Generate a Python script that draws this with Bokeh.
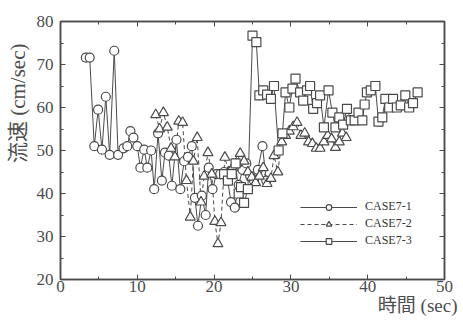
from bokeh.plotting import figure
from bokeh.models import LinearAxis, Legend, LegendItem, Title, Range1d
from bokeh.embed import file_html
from bokeh.resources import INLINE

# ---- data ----
c1_t = [3.3, 3.8, 4.4, 4.9, 5.4, 5.9, 6.4, 7.0, 7.5, 8.2, 8.7, 9.1, 9.5, 10.0, 10.4, 10.9, 11.3, 11.8, 12.2,
        12.7, 13.2, 13.6, 14.1, 14.5, 15.1, 15.6, 16.1, 16.6, 17.1, 17.5, 17.9, 18.4, 18.9, 19.3, 19.8, 20.3,
        20.8, 21.3, 21.7, 22.2, 22.7, 23.2, 23.7, 24.2, 24.7, 25.2, 25.7, 26.3, 26.8]
c1_v = [71.6, 71.6, 51, 59.5, 50.2, 62.5, 49, 73.2, 49, 50.5, 51, 54.5, 53, 51, 46, 50.2, 46, 50, 41,
        54, 43, 49.5, 48.8, 41.8, 52.5, 41, 47.5, 48.5, 51, 39, 32.5, 39.5, 35, 46, 41, 44.5,
        44.5, 45, 43.8, 38, 36.7, 42, 45.5, 47, 44, 43, 45.5, 51, 43]

c2_t = [12.4, 12.9, 13.4, 13.9, 14.4, 14.9, 15.4, 15.9, 16.4, 16.9, 17.3, 17.8, 18.3, 18.7, 19.2, 19.7,
        20.1, 20.5, 20.9, 21.4, 21.9, 22.4, 22.9, 23.4, 23.9, 24.4, 24.9, 25.4, 25.9, 26.4, 26.9, 27.4,
        27.8, 28.3, 28.8, 29.3, 29.8, 30.3, 30.8, 31.3, 31.8, 32.3, 32.8, 33.3, 33.8, 34.3, 34.8, 35.3,
        35.8, 36.3, 36.7, 37.2]
c2_v = [58.3, 55, 58.8, 55.4, 50.5, 48.5, 56.8, 56.5, 43, 34.5, 47.5, 53, 38, 44, 49.5, 44.5,
        33.5, 28.3, 33.2, 48.4, 45, 46, 47, 49.3, 47.5, 45, 43.8, 42.5, 44, 46, 42.3, 43.5,
        48.8, 45, 52, 53.5, 54.5, 55.5, 56.5, 53.5, 54, 52, 51.6, 50.5, 50.5, 52, 53.5, 52.7,
        50.7, 52, 54, 53]

c3_t = [21.3, 21.8, 22.3, 22.8, 23.2, 23.5, 23.9, 24.4, 25.0, 25.5, 25.9, 26.4, 26.9, 27.4, 27.8, 28.4,
        28.9, 29.3, 29.8, 30.2, 30.6, 31.2, 31.6, 32.1, 32.5, 32.9, 33.4, 33.8, 34.3, 34.9, 35.4, 35.8,
        36.3, 36.8, 37.3, 37.8, 38.3, 38.8, 39.3, 39.6, 39.9, 40.4, 41.0, 41.4, 41.9, 42.3, 42.8, 43.3,
        43.8, 44.3, 44.9, 45.4, 45.9, 46.5]
c3_v = [44.5, 43, 44.5, 47, 40, 41.5, 37.8, 41, 76.7, 75.2, 62.8, 64, 63, 62, 65, 50,
        54, 63.5, 60, 64.4, 66.7, 63.5, 61.6, 64, 65, 59.7, 61, 62.8, 55.4, 64, 58.8, 55.4,
        57.7, 56, 59.7, 57, 57, 58.8, 57, 60.7, 63.5, 64, 65, 56.7, 57.7, 62, 60, 62,
        60, 60.5, 62.8, 60, 61, 63.5]

series_names = ["CASE7-1", "CASE7-2", "CASE7-3"]
x_label = "時間 (sec)"
y_label = "流速 (cm/sec)"
x_ticks = [0, 10, 20, 30, 40, 50]
y_ticks = [20, 30, 40, 50, 60, 70, 80]

INK = "#4a4a4a"
LABEL = "#4d4d4d"
SERIF = "Liberation Serif"
MIXED = "Liberation Serif, Noto Sans CJK JP"

p = figure(x_range=Range1d(0, 50), y_range=Range1d(20, 80),
           width=463, height=323,
           min_border_left=60, min_border_right=19, min_border_top=21, min_border_bottom=44,
           output_backend="svg", toolbar_location=None)
p.grid.visible = False
p.outline_line_color = INK
p.outline_line_width = 1.5
p.background_fill_color = "white"
p.border_fill_color = "white"


def style_axis(ax):
    ax.axis_line_color = INK
    ax.axis_line_width = 1.5
    ax.major_tick_in = 5
    ax.major_tick_out = 0
    ax.minor_tick_in = 3
    ax.minor_tick_out = 0
    ax.major_tick_line_color = INK
    ax.minor_tick_line_color = INK
    ax.ticker.desired_num_ticks = 6
    ax.ticker.num_minor_ticks = 2


for ax in [p.xaxis[0], p.yaxis[0]]:
    style_axis(ax)
    ax.major_label_text_font = SERIF
    ax.major_label_text_font_size = "17px"
    ax.major_label_text_color = LABEL

p.xaxis[0].major_label_standoff = 1
p.yaxis[0].major_label_standoff = 7

top_ax = LinearAxis()
style_axis(top_ax)
top_ax.major_label_overrides = {v: "" for v in x_ticks}
top_ax.major_label_standoff = 0
p.add_layout(top_ax, "above")

right_ax = LinearAxis()
style_axis(right_ax)
right_ax.major_label_overrides = {v: "" for v in y_ticks}
right_ax.major_label_standoff = 0
p.add_layout(right_ax, "right")

l1 = p.line(c1_t, c1_v, line_color=INK, line_width=1)
l2 = p.line(c2_t, c2_v, line_color=INK, line_width=1, line_dash="4 3")
l3 = p.line(c3_t, c3_v, line_color=INK, line_width=1)
s1 = p.scatter(c1_t, c1_v, marker="circle", size=9, fill_color="white", line_color=INK, line_width=1.2)
s2 = p.scatter(c2_t, c2_v, marker="triangle", size=10, fill_color="white", line_color=INK, line_width=1.2)
s3 = p.scatter(c3_t, c3_v, marker="square", size=9, fill_color="white", line_color=INK, line_width=1.2)

legend = Legend(items=[LegendItem(label=series_names[0], renderers=[l1, s1]),
                       LegendItem(label=series_names[1], renderers=[l2, s2]),
                       LegendItem(label=series_names[2], renderers=[l3, s3])],
                location=(240, 31), glyph_width=57, glyph_height=14, label_standoff=8,
                spacing=2, padding=0, margin=0, border_line_color=None,
                background_fill_alpha=0, label_text_font=SERIF, label_text_font_size="12px",
                label_text_color="#333333")
p.add_layout(legend)

xt = Title(text=x_label, align="right", offset=-13, standoff=-4, text_font=MIXED,
           text_font_size="19px", text_font_style="normal", text_color=LABEL)
p.add_layout(xt, "below")

yt = Title(text=y_label, align="right", offset=22, standoff=7, text_font=MIXED,
           text_font_size="21px", text_font_style="normal", text_color=LABEL)
p.add_layout(yt, "left")

open("out.html", "w").write(file_html(p, INLINE))
